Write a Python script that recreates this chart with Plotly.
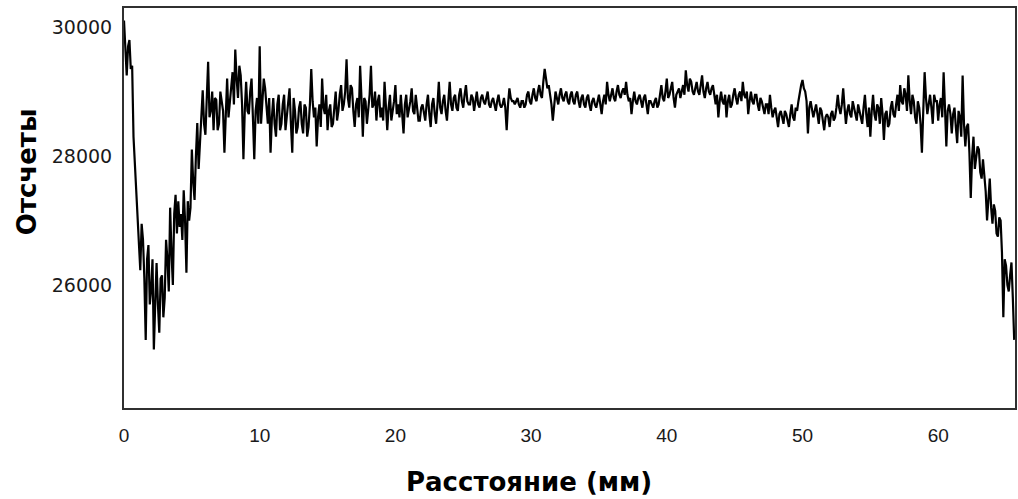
import numpy as np
import plotly.graph_objects as go

# Sampling grid along the profile (mm)
x_start = 0.0
x_step = 0.1

# Counts read at 0.0, 0.2, 0.4 ... mm (one row per millimetre)
counts_even = [
    30100, 29250, 29800, 29400, 27900,   # 0
    27080, 26230, 26700, 25150, 26620,   # 1
    25920, 25000, 26340, 25260, 26150,   # 2
    25800, 26400, 27200, 26000, 27400,   # 3
    27300, 27100, 27470, 26190, 27000,   # 4
    28100, 27320, 28510, 28250, 29020,   # 5
    28330, 29460, 28710, 28400, 28870,   # 6
    28500, 28800, 28050, 29200, 28850,   # 7
    29300, 29650, 28900, 29250, 27950,   # 8
    29150, 28650, 29200, 27950, 28900,   # 9
    29700, 28800, 29050, 28500, 28050,   # 10
    28900, 28300, 28950, 28500, 28950,   # 11
    28600, 29050, 28050, 28700, 28450,   # 12
    28850, 28350, 28750, 28450, 29350,   # 13
    28600, 28150, 28800, 29200, 28650,   # 14
    28400, 28800, 28500, 29000, 28700,   # 15
    29100, 28800, 29500, 28750, 29050,   # 16
    28450, 28900, 29400, 28300, 28850,   # 17
    28700, 29400, 28800, 28550, 28950,   # 18
    28750, 29150, 28400, 28950, 28700,   # 19
    29100, 28800, 28950, 28350, 28950,   # 20
    28700, 29050, 28650, 28750, 28550,   # 21
    28800, 28550, 28950, 28450, 28900,   # 22
    28500, 29150, 28650, 28950, 28550,   # 23
    29150, 28700, 28950, 28700, 29050,   # 24
    28750, 29100, 28800, 28950, 28700,   # 25
    29000, 28750, 28950, 28800, 29000,   # 26
    28750, 28900, 28700, 28950, 28750,   # 27
    28900, 28400, 29050, 28850, 28800,   # 28
    28900, 28750, 28850, 28800, 29000,   # 29
    28800, 29050, 28850, 29100, 28900,   # 30
    29350, 29050, 28950, 28550, 29000,   # 31
    28800, 29050, 28850, 29000, 28800,   # 32
    29000, 28800, 29000, 28750, 28950,   # 33
    28750, 28950, 28700, 28900, 28750,   # 34
    28950, 28650, 28950, 29150, 28850,   # 35
    29050, 28850, 29100, 28900, 29050,   # 36
    29150, 28850, 28650, 29000, 28800,   # 37
    28950, 28750, 28950, 28650, 28850,   # 38
    28750, 28900, 28800, 29100, 28850,   # 39
    29200, 28950, 29150, 28750, 29000,   # 40
    28900, 29100, 29330, 29000, 29150,   # 41
    28950, 29150, 28950, 29250, 28900,   # 42
    29150, 28950, 29100, 28800, 28600,   # 43
    29000, 28800, 28600, 28950, 28800,   # 44
    29050, 28800, 29000, 29150, 28900,   # 45
    28650, 29000, 28800, 28950, 28700,   # 46
    28850, 28650, 28800, 28950, 28600,   # 47
    28750, 28450, 28700, 28500, 28650,   # 48
    28450, 28800, 28550, 28700, 29000,   # 49
    29180, 29000, 28350, 28850, 28600,   # 50
    28800, 28500, 28700, 28400, 28650,   # 51
    28450, 28700, 28600, 28950, 28650,   # 52
    29050, 28500, 28800, 28600, 28750,   # 53
    28550, 28700, 28500, 28950, 28450,   # 54
    28300, 28950, 28550, 28750, 28900,   # 55
    28250, 28700, 28500, 28850, 28600,   # 56
    28950, 29100, 28800, 28950, 29250,   # 57
    28650, 28850, 28500, 28750, 28050,   # 58
    29300, 28650, 28950, 28500, 28850,   # 59
    28550, 28900, 29300, 28150, 28800,   # 60
    28350, 28750, 28200, 28600, 29250,   # 61
    28150, 28500, 27350, 28300, 27950,   # 62
    28100, 27650, 27700, 27000, 27650,   # 63
    26950, 27150, 26750, 27000, 25500,   # 64
    26300, 25900, 26350, 25150,          # 65
]

# Counts read at 0.1, 0.3, 0.5 ... mm (one row per millimetre)
counts_odd = [
    29600, 29700, 29350, 28300, 27500,   # 0
    26500, 26950, 26100, 26400, 25700,   # 1
    26400, 25700, 25700, 26100, 25500,   # 2
    26700, 25900, 26500, 27100, 26800,   # 3
    26900, 26700, 27000, 27300, 27200,   # 4
    27600, 28000, 27800, 28700, 28500,   # 5
    28900, 28600, 29000, 28900, 28400,   # 6
    29000, 28700, 28800, 28600, 29050,   # 7
    28800, 29200, 29400, 28800, 28700,   # 8
    28700, 29000, 28600, 28700, 28500,   # 9
    28500, 29200, 28700, 28900, 28600,   # 10
    28500, 28800, 28400, 28800, 28400,   # 11
    28800, 28500, 28900, 28350, 28750,   # 12
    28500, 28800, 28300, 28800, 28850,   # 13
    28750, 28600, 28450, 28750, 28950,   # 14
    28700, 28450, 28750, 28550, 28950,   # 15
    28700, 29000, 28900, 29100, 28700,   # 16
    28800, 28600, 28900, 28900, 28500,   # 17
    28950, 28750, 29000, 28850, 28600,   # 18
    28550, 28800, 28750, 28550, 28850,   # 19
    28650, 28600, 28700, 28800, 28600,   # 20
    28850, 28700, 28950, 28550, 28750,   # 21
    28650, 28800, 28650, 28800, 28650,   # 22
    28800, 28750, 28850, 28700, 28850,   # 23
    28800, 28900, 28750, 28950, 28850,   # 24
    28950, 28850, 28800, 28900, 28850,   # 25
    28800, 28900, 28850, 28900, 28800,   # 26
    28850, 28800, 28850, 28800, 28800,   # 27
    28750, 28800, 28900, 28850, 28850,   # 28
    28800, 28850, 28750, 28950, 28850,   # 29
    28950, 28900, 29000, 28950, 29150,   # 30
    29200, 29100, 28800, 28850, 28900,   # 31
    28950, 28900, 28950, 28850, 28950,   # 32
    28850, 28950, 28850, 28900, 28800,   # 33
    28900, 28800, 28850, 28800, 28850,   # 34
    28800, 28850, 28800, 28950, 28950,   # 35
    28900, 29000, 28950, 29000, 28950,   # 36
    28950, 28900, 28850, 28850, 28900,   # 37
    28850, 28900, 28800, 28850, 28800,   # 38
    28850, 28750, 28950, 28900, 29000,   # 39
    28900, 29050, 28900, 28950, 29050,   # 40
    29000, 28950, 29100, 29200, 29000,   # 41
    29050, 29000, 29100, 29000, 29050,   # 42
    29000, 29050, 28950, 28950, 28850,   # 43
    28850, 28950, 28850, 28750, 28950,   # 44
    28900, 28950, 28850, 28950, 29000,   # 45
    28850, 28850, 28950, 28800, 28900,   # 46
    28750, 28800, 28650, 28750, 28700,   # 47
    28600, 28650, 28600, 28700, 28550,   # 48
    28650, 28600, 28750, 28850, 29100,   # 49
    29050, 28850, 28750, 28700, 28700,   # 50
    28650, 28750, 28550, 28600, 28600,   # 51
    28650, 28550, 28750, 28750, 28800,   # 52
    28750, 28700, 28650, 28850, 28650,   # 53
    28800, 28600, 28750, 28650, 28750,   # 54
    28700, 28650, 28800, 28500, 28650,   # 55
    28650, 28450, 28750, 28650, 28800,   # 56
    28700, 28850, 29050, 28700, 28850,   # 57
    28950, 28600, 28850, 28500, 28700,   # 58
    28900, 28800, 28750, 28950, 28850,   # 59
    28800, 28600, 28750, 28700, 28650,   # 60
    28650, 28450, 28700, 28300, 28500,   # 61
    28450, 28050, 28000, 27800, 28150,   # 62
    27750, 27950, 27450, 27400, 27200,   # 63
    27250, 26800, 27050, 26500, 26400,   # 64
    26000, 26150, 25800,                 # 65
]

counts = []
for i, v in enumerate(counts_even):
    counts.append(v)
    if i < len(counts_odd):
        counts.append(counts_odd[i])

distance = np.round(x_start + x_step * np.arange(len(counts)), 2)

x_ticks = [0, 10, 20, 30, 40, 50, 60]
y_ticks = [26000, 28000, 30000]
x_range = [0, 65.66]
y_range = [24094, 30295]

x_title = "Расстояние (мм)"
y_title = "Отсчеты"

fig = go.Figure()
fig.add_trace(go.Scatter(
    x=distance, y=counts, mode="lines",
    line=dict(color="black", width=2.2),
    showlegend=False, hoverinfo="skip",
))

fig.update_layout(
    width=1018, height=499,
    margin=dict(l=124, r=1, t=8, b=91),
    paper_bgcolor="white", plot_bgcolor="white",
    showlegend=False,
)
fig.update_xaxes(
    range=x_range, tickvals=x_ticks, ticktext=[str(v) for v in x_ticks],
    showgrid=False, zeroline=False,
    showline=True, mirror=True, linecolor="#303030", linewidth=2,
    ticks="outside", ticklen=9, tickcolor="rgba(0,0,0,0)",
    tickfont=dict(family="Liberation Sans, Arial, sans-serif", size=19, color="#1a1a1a"),
)
fig.update_yaxes(
    range=y_range, tickvals=y_ticks, ticktext=[str(v) for v in y_ticks],
    showgrid=False, zeroline=False,
    showline=True, mirror=True, linecolor="#303030", linewidth=2,
    ticks="outside", ticklen=6, tickcolor="rgba(0,0,0,0)",
    tickfont=dict(family="DejaVu Sans, sans-serif", size=19, color="#1a1a1a"),
)

fig.add_annotation(
    text=x_title, xref="paper", yref="paper",
    x=(530 - 124) / 893, y=(408 - 482) / 400,
    xanchor="center", yanchor="middle", showarrow=False,
    font=dict(family="DejaVu Sans, sans-serif", size=26, color="black", weight="bold"),
)
fig.add_annotation(
    text=y_title, xref="paper", yref="paper",
    x=(27 - 124) / 893, y=(408 - 172) / 400,
    xanchor="center", yanchor="middle", showarrow=False, textangle=-90,
    font=dict(family="DejaVu Sans, sans-serif", size=26, color="black", weight="bold"),
)

fig.write_html(
    "out.html",
    config={"displayModeBar": False},
    post_script="document.body.style.margin='0';document.body.style.overflow='hidden';",
)
